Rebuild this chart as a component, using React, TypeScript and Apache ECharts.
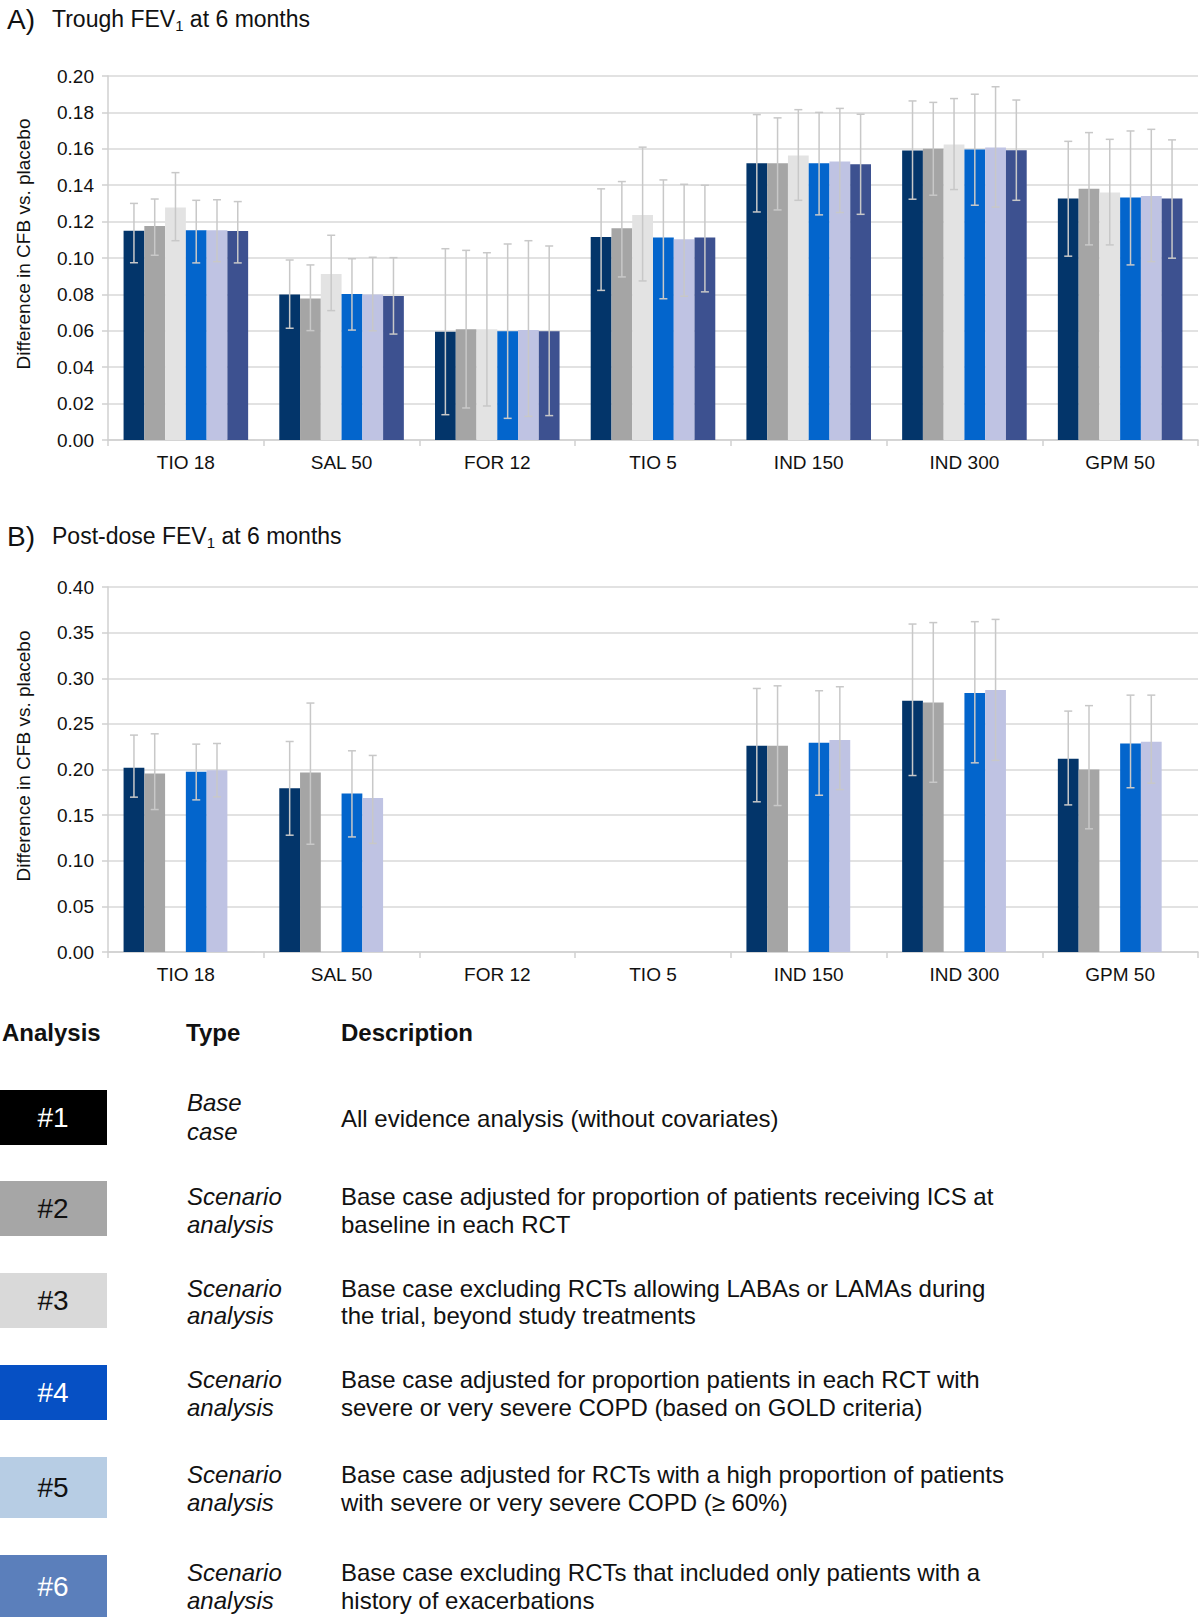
import React, { useEffect, useRef } from 'react';
import * as echarts from 'echarts';

const categories = ['TIO 18', 'SAL 50', 'FOR 12', 'TIO 5', 'IND 150', 'IND 300', 'GPM 50'];
const yTicksA = [0, 0.2, 0.02];
const yTicksB = [0, 0.4, 0.05];
const yAxisName = 'Difference in CFB vs. placebo';

// A) Trough FEV1 at 6 months — mean, lower, upper per analysis (#1..#6)
const a1 = [0.115, 0.080, 0.0595, 0.1115, 0.152, 0.159, 0.1327];
const a1Lo = [0.0974, 0.0614, 0.0139, 0.0822, 0.1253, 0.1323, 0.101];
const a1Hi = [0.130, 0.0989, 0.1051, 0.138, 0.1788, 0.1863, 0.1641];
const a2 = [0.1176, 0.0778, 0.0608, 0.1163, 0.152, 0.160, 0.138];
const a2Lo = [0.1015, 0.0601, 0.0176, 0.0896, 0.1264, 0.1345, 0.1072];
const a2Hi = [0.1324, 0.0962, 0.1042, 0.142, 0.177, 0.1855, 0.1689];
const a3 = [0.1277, 0.0912, 0.0608, 0.1236, 0.1563, 0.1623, 0.136];
const a3Lo = [0.1095, 0.0711, 0.0187, 0.0874, 0.1317, 0.1376, 0.1072];
const a3Hi = [0.1469, 0.1125, 0.1029, 0.1609, 0.1815, 0.1876, 0.1652];
const a4 = [0.1152, 0.0802, 0.0597, 0.1113, 0.152, 0.1596, 0.1332];
const a4Lo = [0.0973, 0.0604, 0.0119, 0.0776, 0.1237, 0.129, 0.0962];
const a4Hi = [0.1317, 0.0996, 0.1077, 0.1429, 0.180, 0.190, 0.1698];
const a5 = [0.1152, 0.0799, 0.0604, 0.1103, 0.153, 0.1607, 0.134];
const a5Lo = [0.098, 0.060, 0.013, 0.079, 0.125, 0.128, 0.098];
const a5Hi = [0.132, 0.1004, 0.1095, 0.1405, 0.1822, 0.1941, 0.1707];
const a6 = [0.1148, 0.0791, 0.0597, 0.1113, 0.1515, 0.1592, 0.1327];
const a6Lo = [0.0973, 0.0582, 0.0134, 0.0814, 0.124, 0.1317, 0.0999];
const a6Hi = [0.131, 0.1002, 0.1066, 0.140, 0.179, 0.1868, 0.1649];

// B) Post-dose FEV1 at 6 months
const N = null;
const b1 = [0.2018, 0.1795, N, N, 0.226, 0.2753, 0.2117];
const b1Lo = [0.1697, 0.128, N, N, 0.1646, 0.1934, 0.1612];
const b1Hi = [0.2377, 0.2307, N, N, 0.2888, 0.3594, 0.264];
const b2 = [0.1956, 0.1967, N, N, 0.226, 0.2735, 0.200];
const b2Lo = [0.1561, 0.1181, N, N, 0.1605, 0.186, 0.135];
const b2Hi = [0.2391, 0.2728, N, N, 0.2917, 0.361, 0.270];
const b3 = [N, N, N, N, N, N, N];
const b4 = [0.1974, 0.1737, N, N, 0.2293, 0.2837, 0.2285];
const b4Lo = [0.1667, 0.1261, N, N, 0.1718, 0.2073, 0.180];
const b4Hi = [0.2278, 0.2205, N, N, 0.2863, 0.362, 0.2815];
const b5 = [0.1993, 0.1689, N, N, 0.2322, 0.287, 0.2303];
const b5Lo = [0.170, 0.119, N, N, 0.178, 0.210, 0.185];
const b5Hi = [0.2285, 0.2154, N, N, 0.2907, 0.3645, 0.2815];
const b6 = [N, N, N, N, N, N, N];

const barColors = ['#03356a', '#a5a5a5', '#e3e3e3', '#0365cc', '#bfc3e3', '#3d5190'];
const legendColors = ['#000000', '#a6a6a6', '#d9d9d9', '#0650c4', '#b7cde4', '#5b7fbb'];
const legendLabelColors = ['#ffffff', '#111111', '#111111', '#ffffff', '#111111', '#ffffff'];
const legendLabels = ['#1', '#2', '#3', '#4', '#5', '#6'];
const legendTypes = [
  ['Base', 'case'],
  ['Scenario', 'analysis'],
  ['Scenario', 'analysis'],
  ['Scenario', 'analysis'],
  ['Scenario', 'analysis'],
  ['Scenario', 'analysis'],
];
const legendDesc = [
  ['All evidence analysis (without covariates)'],
  ['Base case adjusted for proportion of patients receiving ICS at', 'baseline in each RCT'],
  ['Base case excluding RCTs allowing LABAs or LAMAs during', 'the trial, beyond study treatments'],
  ['Base case adjusted for proportion patients in each RCT with', 'severe or very severe COPD (based on GOLD criteria)'],
  ['Base case adjusted for RCTs with a high proportion of patients', 'with severe or very severe COPD (\u2265 60%)'],
  ['Base case excluding RCTs that included only patients with a', 'history of exacerbations'],
];

const FONT = '"Liberation Sans", Arial, Helvetica, sans-serif';

const seriesA = [a1, a2, a3, a4, a5, a6];
const lowA = [a1Lo, a2Lo, a3Lo, a4Lo, a5Lo, a6Lo];
const highA = [a1Hi, a2Hi, a3Hi, a4Hi, a5Hi, a6Hi];
const seriesB = [b1, b2, b3, b4, b5, b6];
const lowB = [b1Lo, b2Lo, b3, b4Lo, b5Lo, b6];
const highB = [b1Hi, b2Hi, b3, b4Hi, b5Hi, b6];

function errData(lows: any[], highs: any[]) {
  const out: number[][] = [];
  for (let s = 0; s < lows.length; s++) {
    for (let c = 0; c < categories.length; c++) {
      const lo = lows[s][c];
      const hi = highs[s][c];
      if (lo != null && hi != null) out.push([c, s, lo, hi]);
    }
  }
  return out;
}

const renderErr = (params: any, api: any) => {
  const c = api.value(0);
  const s = api.value(1);
  const lo = api.value(2);
  const hi = api.value(3);
  const band = api.size([1, 0])[0];
  const bw = (band * 0.8) / 6;
  const base = api.coord([c, lo]);
  const top = api.coord([c, hi]);
  const x = base[0] + (s - 2.5) * bw;
  const cap = 4;
  const st = { stroke: '#c8c8c8', lineWidth: 1.5 };
  return {
    type: 'group',
    children: [
      { type: 'line', shape: { x1: x, y1: top[1], x2: x, y2: base[1] }, style: st },
      { type: 'line', shape: { x1: x - cap, y1: top[1], x2: x + cap, y2: top[1] }, style: st },
      { type: 'line', shape: { x1: x - cap, y1: base[1], x2: x + cap, y2: base[1] }, style: st },
    ],
  };
};

function xAxis(gridIndex: number) {
  return {
    type: 'category',
    gridIndex,
    data: categories,
    axisLine: { show: true, lineStyle: { color: '#d0d0d0', width: 1.5 } },
    axisTick: { show: true, length: 6, lineStyle: { color: '#d0d0d0', width: 1.5 } },
    axisLabel: { fontFamily: FONT, fontSize: 19, color: '#111', margin: 13 },
  };
}

function yAxis(gridIndex: number, ticks: number[]) {
  return {
    type: 'value',
    gridIndex,
    min: ticks[0],
    max: ticks[1],
    interval: ticks[2],
    axisLine: { show: true, lineStyle: { color: '#d0d0d0', width: 1.5 } },
    axisTick: { show: true, length: 6, lineStyle: { color: '#d0d0d0', width: 1.5 } },
    splitLine: { show: true, lineStyle: { color: '#d9d9d9', width: 1.5 } },
    axisLabel: {
      fontFamily: FONT,
      fontSize: 19,
      color: '#111',
      margin: 14,
      formatter: (v: number) => v.toFixed(2),
    },
  };
}

function barSeries(data: any[], xi: number) {
  return data.map((d, i) => ({
    type: 'bar',
    name: legendLabels[i],
    xAxisIndex: xi,
    yAxisIndex: xi,
    data: d,
    barGap: '0%',
    barCategoryGap: '20%',
    itemStyle: { color: barColors[i] },
    z: 2,
  }));
}

function titleGraphic(letter: string, pre: string, post: string, y: number) {
  return [
    {
      type: 'text',
      x: 7,
      y: y - 2,
      style: { text: letter, fontFamily: FONT, fontSize: 28, fill: '#111', verticalAlign: 'middle' },
    },
    {
      type: 'text',
      left: 52,
      top: y - 14,
      style: {
        text: `{a|${pre}}{s|1}{a|${post}}`,
        fill: '#111',
        rich: {
          a: { fontFamily: FONT, fontSize: 23, lineHeight: 28, verticalAlign: 'middle', fill: '#111' },
          s: { fontFamily: FONT, fontSize: 15, lineHeight: 12, verticalAlign: 'bottom', fill: '#111' },
        },
      },
    },
  ];
}

function yNameGraphic(cy: number) {
  return {
    type: 'text',
    x: 23,
    y: cy,
    rotation: Math.PI / 2,
    style: {
      text: yAxisName,
      fontFamily: FONT,
      fontSize: 19,
      fill: '#111',
      align: 'center',
      verticalAlign: 'middle',
    },
  };
}

const boxTops = [1090, 1181, 1273, 1365, 1457, 1555];
const boxHeights = [55, 55, 55, 55, 61, 62];
const lineY = [
  [1102, 1131],
  [1196, 1224],
  [1288, 1315],
  [1379, 1407],
  [1474, 1502],
  [1572, 1600],
];

function tableGraphic() {
  const els: any[] = [];
  const hdr = { fontFamily: FONT, fontSize: 24, fontWeight: 'bold', fill: '#111', verticalAlign: 'middle' };
  els.push({ type: 'text', x: 2, y: 1032, style: { ...hdr, text: 'Analysis' } });
  els.push({ type: 'text', x: 186, y: 1032, style: { ...hdr, text: 'Type' } });
  els.push({ type: 'text', x: 341, y: 1032, style: { ...hdr, text: 'Description' } });
  for (let i = 0; i < legendLabels.length; i++) {
    const top = boxTops[i];
    const h = boxHeights[i];
    els.push({
      type: 'rect',
      shape: { x: 0, y: top, width: 107, height: h },
      style: { fill: legendColors[i] },
    });
    els.push({
      type: 'text',
      x: 53,
      y: top + h / 2,
      style: {
        text: legendLabels[i],
        fontFamily: FONT,
        fontSize: 28,
        fill: legendLabelColors[i],
        align: 'center',
        verticalAlign: 'middle',
      },
    });
    legendTypes[i].forEach((t, k) => {
      els.push({
        type: 'text',
        x: 187,
        y: lineY[i][k],
        style: {
          text: t,
          fontFamily: FONT,
          fontSize: 24,
          fontStyle: 'italic',
          fill: '#111',
          verticalAlign: 'middle',
        },
      });
    });
    const d = legendDesc[i];
    d.forEach((t, k) => {
      const y = d.length === 1 ? (lineY[i][0] + lineY[i][1]) / 2 + 2 : lineY[i][k];
      els.push({
        type: 'text',
        x: 341,
        y,
        style: { text: t, fontFamily: FONT, fontSize: 24, fill: '#111', verticalAlign: 'middle' },
      });
    });
  }
  return els;
}

export default function App() {
  const ref = useRef<HTMLDivElement>(null);
  useEffect(() => {
    if (!ref.current) return;
    const chart = echarts.init(ref.current, null, { renderer: 'svg' });
    chart.setOption({
      animation: false,
      backgroundColor: '#ffffff',
      textStyle: { fontFamily: FONT },
      grid: [
        { left: 108, right: 2, top: 76, height: 364 },
        { left: 108, right: 2, top: 587, height: 365 },
      ],
      xAxis: [xAxis(0), xAxis(1)],
      yAxis: [yAxis(0, yTicksA), yAxis(1, yTicksB)],
      series: [
        ...barSeries(seriesA, 0),
        ...barSeries(seriesB, 1),
        {
          type: 'custom',
          xAxisIndex: 0,
          yAxisIndex: 0,
          renderItem: renderErr,
          data: errData(lowA, highA),
          encode: { x: 0, y: [2, 3] },
          z: 5,
        },
        {
          type: 'custom',
          xAxisIndex: 1,
          yAxisIndex: 1,
          renderItem: renderErr,
          data: errData(lowB, highB),
          encode: { x: 0, y: [2, 3] },
          z: 5,
        },
      ],
      graphic: [
        ...titleGraphic('A)', 'Trough FEV', ' at 6 months', 21),
        ...titleGraphic('B)', 'Post-dose FEV', ' at 6 months', 538),
        yNameGraphic(244),
        yNameGraphic(756),
        ...tableGraphic(),
      ],
    });
    return () => chart.dispose();
  }, []);
  return (
    <div
      ref={ref}
      style={{ position: 'absolute', left: 0, top: 0, width: 1200, height: 1617, background: '#fff' }}
    />
  );
}
